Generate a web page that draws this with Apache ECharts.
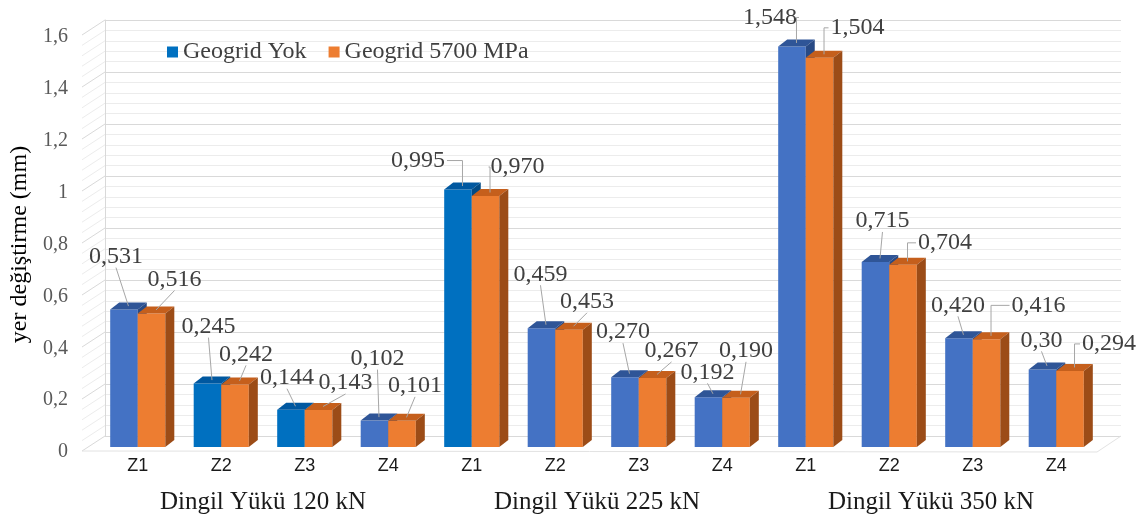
<!DOCTYPE html>
<html><head><meta charset="utf-8">
<script src="https://cdn.jsdelivr.net/npm/echarts@6/dist/echarts.min.js"></script>
<style>html,body{margin:0;padding:0;background:#fff}#c{width:1143px;height:522px}</style>
</head><body><div id="c"></div>
<script>
// ---- data ----
const categories = ['Z1','Z2','Z3','Z4','Z1','Z2','Z3','Z4','Z1','Z2','Z3','Z4'];
const groups = ['Dingil Yükü 120 kN','Dingil Yükü 225 kN','Dingil Yükü 350 kN'];
const geogridYok  = ['0.531','0.245','0.144','0.102','0.995','0.459','0.270','0.192','1.548','0.715','0.420','0.30'];
const geogrid5700 = ['0.516','0.242','0.143','0.101','0.970','0.453','0.267','0.190','1.504','0.704','0.416','0.294'];
const seriesNames = ['Geogrid Yok','Geogrid 5700 MPa'];
const yMin = 0, yMax = 1.6, yInterval = 0.2;

// ---- layout / style (not data) ----
// label nudges relative to the top-front centre of each bar (as placed in the original)
const yokLabelNudge  = [[-8,-53],[1,-57],[-4,-32],[3,-62],[-40,-29],[-1,-54],[-2,-45],[-1,-25],[-22,-29],[7,-41],[-1,-33],[-1,-29]];
const g57LabelNudge  = [[23,-34],[11,-30],[27,-27],[13,-35],[32,-29],[18,-28],[19,-27],[10,-47],[38,-30],[42,-22],[52,-34],[39,-27]];
const vividBlueIdx = [1,2,4];
const palette = {
  blue:  {front:'#4472C4', top:'#2F5597', side:'#284a85'},
  vivid: {front:'#0070C0', top:'#0058a0', side:'#004a85'},
  orange:{front:'#ED7D31', top:'#C55F1C', side:'#9C4C17'}
};
const SERIF = '"Liberation Serif","Times New Roman",serif';
const VAL_FS = 24;
const DEPTH_X = 9, DEPTH_Y = 7;

function barRenderer(raw, nudges, colorOf, side) {
  return function (params, api) {
    const i = params.dataIndex;
    const v = api.value(1);
    const top = api.coord([i, v]);
    const base = api.coord([i, 0]);
    const band = api.size([1, 0])[0];
    const w = band * 0.33;
    const x0 = side < 0 ? top[0] - w : top[0];
    const x1 = x0 + w;
    const yt = top[1], yb = base[1];
    const c = colorOf(i);
    const children = [
      {type:'rect', shape:{x:x0, y:yt, width:w, height:yb-yt}, style:{fill:c.front}},
      {type:'polygon', shape:{points:[[x0,yt],[x1,yt],[x1+DEPTH_X,yt-DEPTH_Y],[x0+DEPTH_X,yt-DEPTH_Y]]}, style:{fill:c.top}},
      {type:'polygon', shape:{points:[[x1,yt],[x1+DEPTH_X,yt-DEPTH_Y],[x1+DEPTH_X,yb-DEPTH_Y],[x1,yb]]}, style:{fill:c.side}}
    ];
    // label + leader line
    const txt = raw[i].replace('.', ',');
    const cx = (x0 + x1) / 2;
    const lx = cx + nudges[i][0], ly = yt + nudges[i][1];
    const halfW = ((txt.length - 1) * VAL_FS * 0.5 + VAL_FS * 0.25) / 2;
    const ax = cx + DEPTH_X / 2, ay = yt - DEPTH_Y / 2;
    let pts;
    if (ax >= lx - halfW + 3 && ax <= lx + halfW - 3) {
      pts = [[lx, ly + 11], [ax, ay]];
    } else if (ax > lx) {
      pts = [[lx + halfW + 2, ly], [ax, ly], [ax, ay]];
    } else {
      pts = [[lx - halfW - 2, ly], [ax, ly], [ax, ay]];
    }
    children.push({type:'polyline', shape:{points:pts}, style:{stroke:'#a6a6a6', lineWidth:1, fill:null}, z2:50});
    children.push({type:'text', x:lx, y:ly, z2:60,
      style:{text:txt, fontFamily:SERIF, fontSize:VAL_FS, fill:'#404040', align:'center', verticalAlign:'middle'}});
    return {type:'group', children};
  };
}

function wallRenderer(params, api) {
  const cs = params.coordSys;
  const fx = -23, fy = 15;
  const children = [];
  const minorStep = yInterval / 5;
  for (let k = 0; k <= Math.round((yMax - yMin) / minorStep); k++) {
    const t = yMin + k * minorStep;
    const p = api.coord([0, t]);
    const major = k % 5 === 0;
    children.push({type:'line', shape:{x1:cs.x, y1:p[1], x2:cs.x + fx, y2:p[1] + fy},
      style:{stroke: major ? '#d9d9d9' : '#ececec', lineWidth:1}});
  }
  const yb = cs.y + cs.height, xr = cs.x + cs.width;
  children.push({type:'polyline', shape:{points:[[cs.x+fx, yb+fy],[xr+fx-1, yb+fy+1],[xr, yb]]},
    style:{stroke:'#e3e3e3', lineWidth:1, fill:null}});
  return {type:'group', children};
}

const chart = echarts.init(document.getElementById('c'), null, {renderer:'canvas'});
chart.setOption({
  backgroundColor:'#ffffff',
  animation:false,
  legend:{
    data: seriesNames, left:162, top:35, icon:'rect', itemWidth:11, itemHeight:11, itemGap:22,
    textStyle:{fontFamily:SERIF, fontSize:24, color:'#404040'}
  },
  grid:[
    {left:105, right:22, top:20, bottom:86},
    {left:96, right:45, top:33, bottom:75},
    {left:82, right:60, top:37, bottom:70}
  ],
  xAxis:[
    {gridIndex:0, type:'category', data:categories, show:false},
    {gridIndex:1, type:'category', data:categories,
      axisLine:{show:false}, axisTick:{show:false},
      axisLabel:{fontFamily:'"Liberation Sans",Arial,sans-serif', fontSize:18, color:'#1a1a1a', margin:10}},
    {gridIndex:1, type:'category', data:groups, position:'bottom',
      axisLine:{show:false}, axisTick:{show:false},
      axisLabel:{fontFamily:SERIF, fontSize:25, color:'#1a1a1a', margin:43}},
    {gridIndex:2, type:'value', show:false}
  ],
  yAxis:[
    {gridIndex:0, type:'value', min:yMin, max:yMax, interval:yInterval,
      axisLabel:{show:false}, axisTick:{show:false},
      axisLine:{show:true, lineStyle:{color:'#d9d9d9'}},
      splitLine:{show:true, lineStyle:{color:'#d9d9d9'}},
      minorTick:{show:false, splitNumber:5},
      minorSplitLine:{show:true, lineStyle:{color:'#ececec'}}},
    {gridIndex:1, type:'value', min:yMin, max:yMax, interval:yInterval, show:false},
    {gridIndex:2, type:'value', min:yMin, max:yMax, interval:yInterval,
      axisLine:{show:false}, axisTick:{show:false}, splitLine:{show:false},
      axisLabel:{fontFamily:SERIF, fontSize:20, color:'#595959', margin:14,
        formatter: v => String(+v.toFixed(1)).replace('.', ',')},
      name:'yer değiştirme (mm)', nameLocation:'middle', nameGap:50, nameRotate:90,
      nameTextStyle:{fontFamily:SERIF, fontSize:24, color:'#000'}}
  ],
  series:[
    {type:'custom', name:'wall', xAxisIndex:0, yAxisIndex:0, data:[[0,0]], renderItem:wallRenderer, silent:true, z:1},
    {type:'custom', name:seriesNames[0], xAxisIndex:1, yAxisIndex:1, z:2,
      itemStyle:{color:'#0070C0'},
      data: geogridYok.map((v,i)=>[i, +v]),
      renderItem: barRenderer(geogridYok, yokLabelNudge, i => vividBlueIdx.includes(i) ? palette.vivid : palette.blue, -1)},
    {type:'custom', name:seriesNames[1], xAxisIndex:1, yAxisIndex:1, z:3,
      itemStyle:{color:'#ED7D31'},
      data: geogrid5700.map((v,i)=>[i, +v]),
      renderItem: barRenderer(geogrid5700, g57LabelNudge, () => palette.orange, 1)}
  ]
});
</script></body></html>
